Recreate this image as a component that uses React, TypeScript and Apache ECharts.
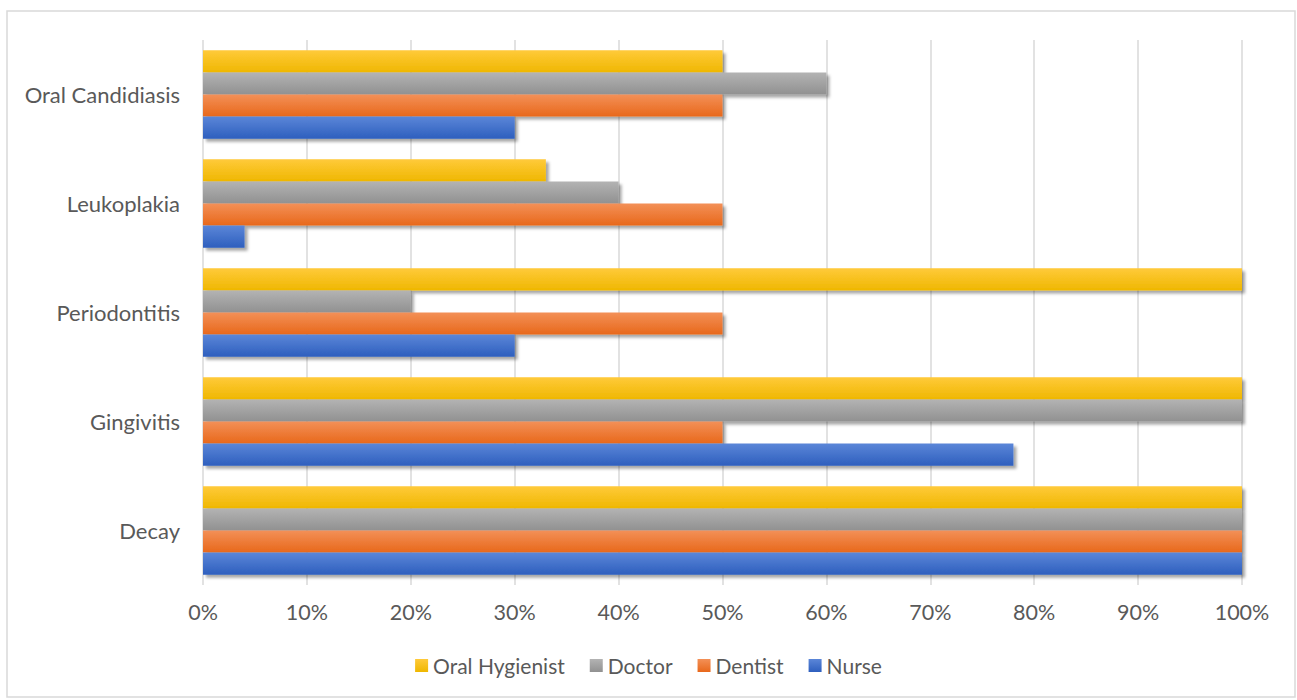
import React, { useEffect, useRef } from "react";
import * as echarts from "echarts";

const categories = ["Decay", "Gingivitis", "Periodontitis", "Leukoplakia", "Oral Candidiasis"];
const nurse = [100, 78, 30, 4, 30];
const dentist = [100, 50, 50, 50, 50];
const doctor = [100, 100, 20, 40, 60];
const oralHygienist = [100, 100, 100, 33, 50];
const legendOrder = ["Oral Hygienist", "Doctor", "Dentist", "Nurse"];

const grad = (top: string, bottom: string) =>
  new echarts.graphic.LinearGradient(0, 0, 0, 1, [
    { offset: 0, color: top },
    { offset: 1, color: bottom },
  ]);

export default function App() {
  const ref = useRef<HTMLDivElement>(null);
  useEffect(() => {
    const chart = echarts.init(ref.current!, null, { renderer: "svg" });
    const font = "Lato, 'Open Sans', sans-serif";
    const mk = (name: string, data: number[], top: string, bottom: string) => ({
      name,
      type: "bar",
      data,
      barGap: "0%",
      barCategoryGap: "19%",
      itemStyle: {
        color: grad(top, bottom),
        shadowColor: "rgba(0,0,0,0.35)",
        shadowBlur: 3,
        shadowOffsetX: 3,
        shadowOffsetY: 3,
      },
    });
    chart.setOption({
      animation: false,
      backgroundColor: "#ffffff",
      graphic: [
        {
          type: "rect",
          shape: { x: 7, y: 11, width: 1288, height: 686 },
          style: { fill: "none", stroke: "#d9d9d9", lineWidth: 1.5 },
          silent: true,
        },
      ],
      grid: { left: 203, right: 55, top: 40, bottom: 115 },
      xAxis: {
        type: "value",
        min: 0,
        max: 100,
        interval: 10,
        axisLine: { show: false },
        axisTick: { show: false },
        splitLine: { show: true, lineStyle: { color: "#d9d9d9", width: 1.5 } },
        axisLabel: {
          formatter: (v: number) => v + "%",
          color: "#595959",
          fontSize: 21.5,
          fontFamily: font,
          margin: 16,
        },
      },
      yAxis: {
        type: "category",
        data: categories,
        axisLine: { show: false },
        axisTick: { show: false },
        axisLabel: { color: "#595959", fontSize: 22, fontFamily: font, margin: 23 },
      },
      legend: {
        data: legendOrder,
        bottom: 19,
        left: "center",
        itemWidth: 13,
        itemHeight: 13,
        itemGap: 25,
        icon: "rect",
        textStyle: { color: "#595959", fontSize: 21, fontFamily: font },
      },
      series: [
        mk("Oral Hygienist", oralHygienist, "#ffca3a", "#efb700"),
        mk("Doctor", doctor, "#b3b3b3", "#919191"),
        mk("Dentist", dentist, "#f39057", "#e8681b"),
        mk("Nurse", nurse, "#5b86d8", "#2e5fbe"),
      ],
    });
    return () => chart.dispose();
  }, []);
  return (
    <div
      ref={ref}
      style={{ position: "fixed", left: 0, top: 0, width: 1297, height: 700 }}
    />
  );
}
